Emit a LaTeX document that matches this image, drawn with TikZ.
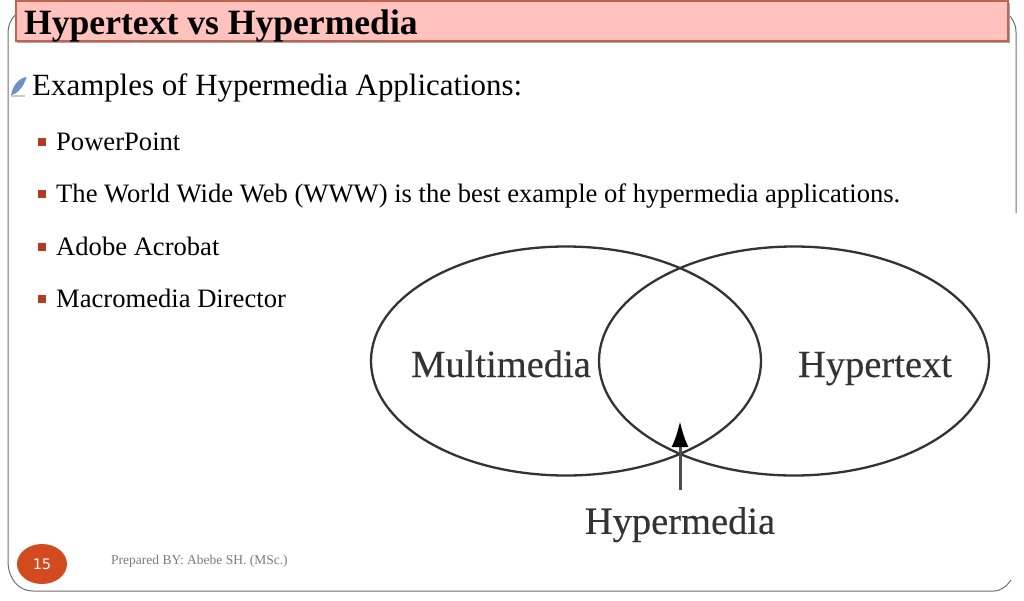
\documentclass[tikz,border=0pt]{standalone}
\usepackage{fontspec}
\setmainfont{Liberation Serif}
\newfontfamily\numfont{DejaVu Sans}
\newfontfamily\vennfont[FakeBold=0.25]{Liberation Serif}
\usetikzlibrary{arrows.meta,shapes.geometric}
\definecolor{titlefill}{HTML}{FFC2BD}
\definecolor{titleedge}{HTML}{BF6450}
\definecolor{framecol}{HTML}{6E6E6E}
\definecolor{bulletcol}{HTML}{B23A22}
\definecolor{numfill}{HTML}{D24A1E}
\definecolor{footcol}{HTML}{7A7A7A}
\definecolor{quillcol}{HTML}{6F90C4}
\tikzset{
  titlebox/.style={draw=titleedge,line width=1.2pt,fill=titlefill,minimum width=992pt,minimum height=40pt,inner sep=0pt},
  titletext/.style={anchor=base west,inner sep=0pt,font=\fontsize{35.6}{36}\selectfont\bfseries},
  headtext/.style={anchor=base west,inner sep=0pt,font=\fontsize{30.9}{31}\selectfont},
  itemtext/.style={anchor=base west,inner sep=0pt,font=\fontsize{26.6}{27}\selectfont},
  itembullet/.style={fill=bulletcol,minimum size=8pt,inner sep=0pt},
  venn/.style={draw=black!80,line width=2.3pt,ellipse,minimum width=390pt,minimum height=229pt,inner sep=0pt},
  venntext/.style={inner sep=0pt,text=black!80,font=\vennfont\fontsize{38.5}{39}\selectfont},
  pointer/.style={draw=black!70,line width=3pt,-{Latex[length=26pt,width=17pt,black]}},
}
\begin{document}
\begin{tikzpicture}[x=1pt,y=-1pt]
\useasboundingbox (0,0) rectangle (1024,600);
% frame, cut off where the figure begins
\draw[framecol,line width=1pt] (1016,213) -- (1016,32) .. controls (1016,24) and (1012,18) .. (1008,14);
\draw[framecol,line width=1pt] (16,14) .. controls (11,19) and (8,25) .. (8,34) -- (8,561)
  .. controls (8,578) and (18,591) .. (33,591) -- (994,591) .. controls (1000,591) and (1006,587) .. (1011,580);
% title bar
\fill[black!35] (17,3) rectangle (1010,43);
\node[titlebox] (titlebar) at (512,21) {};
\node[titletext] (title) at (24,34) {Hypertext vs Hypermedia};
% quill
\fill[quillcol] (26.5,77) .. controls (19,78) and (13,85) .. (11,95) .. controls (18,94) and (24,86) .. (26.5,77) -- cycle;
\fill[black!22] (11,95) rectangle (25,97);
% text
\node[headtext] (head) at (32,95) {Examples of Hypermedia Applications:};
\foreach \yy/\bb/\name/\txt in {142/150/ppt/PowerPoint,
  194/202.5/www/The World Wide Web (WWW) is the best example of hypermedia applications.,
  247/255.5/acro/Adobe Acrobat,
  299/307.5/dir/Macromedia Director}{
  \node[itembullet] (b\name) at (42,\yy) {};
  \node[itemtext] (\name) at (56,\bb) {\txt};
}
% venn
\node[venn] (left) at (566,361) {};
\node[venn] (right) at (794,361) {};
\node[venntext,anchor=base] (multi) at (501,377) {Multimedia};
\node[venntext,anchor=base] (hyper) at (875,377) {Hypertext};
\node[venntext,anchor=north,inner ysep=17pt] (hmedia) at (680,490) {Hypermedia};
\coordinate (hmtip) at (680,421);
\draw[pointer] (hmedia.north) -- (hmtip);
% footer
\node[ellipse,fill=numfill,minimum width=50pt,minimum height=40pt,inner sep=0pt,text=white,font=\numfont\fontsize{14.5}{15}\selectfont] (pagenum) at (42,564) {15};
\node[anchor=base west,inner sep=0pt,text=footcol,font=\fontsize{13.5}{14}\selectfont] (foot) at (111,564) {Prepared BY: Abebe SH. (MSc.)};
\end{tikzpicture}
\end{document}
